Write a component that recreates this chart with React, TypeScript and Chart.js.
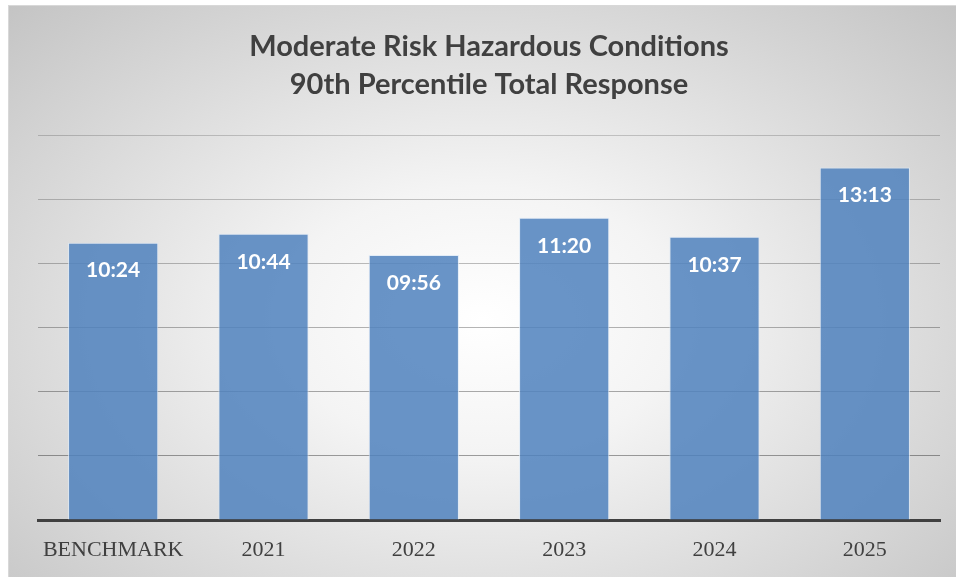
import React, { useEffect, useRef } from "react";
import { Chart, registerables } from "chart.js";

Chart.register(...registerables);

const titleLines = ["Moderate Risk Hazardous Conditions", "90th Percentile Total Response"];
const categories = ["BENCHMARK", "2021", "2022", "2023", "2024", "2025"];
// 90th percentile total response, in seconds (mm:ss)
const responseSeconds = [624, 644, 596, 680, 637, 793];
const axisMax = 864;
const axisStep = 144;

function fmt(sec: number): string {
  const m = Math.floor(sec / 60);
  const s = Math.round(sec % 60);
  return String(m).padStart(2, "0") + ":" + String(s).padStart(2, "0");
}

const labelPlugin = {
  id: "barLabels",
  afterDatasetsDraw(chart: any) {
    const ctx = chart.ctx;
    const meta = chart.getDatasetMeta(0);
    ctx.save();
    ctx.fillStyle = "#ffffff";
    ctx.font = "bold 21px Lato, 'Open Sans', sans-serif";
    ctx.textAlign = "center";
    ctx.textBaseline = "middle";
    meta.data.forEach((bar: any, i: number) => {
      ctx.fillText(fmt(responseSeconds[i]), bar.x, bar.y + 28);
    });
    ctx.restore();
  },
};

export default function App() {
  const ref = useRef<HTMLCanvasElement | null>(null);
  useEffect(() => {
    if (!ref.current) return;
    const chart = new Chart(ref.current, {
      type: "bar",
      data: {
        labels: categories,
        datasets: [
          {
            data: responseSeconds,
            backgroundColor: "rgba(79,129,189,0.85)",
            borderColor: "rgba(220,232,246,0.8)",
            borderWidth: 1,
            barPercentage: 0.6,
            categoryPercentage: 1,
          },
        ],
      },
      options: {
        animation: false,
        responsive: false,
        layout: { padding: { left: 29, right: 16, top: 0, bottom: 0 } },
        plugins: {
          legend: { display: false },
          tooltip: { enabled: false },
          title: {
            display: true,
            text: titleLines,
            color: "#404040",
            font: { family: "Lato, 'Open Sans', sans-serif", size: 29, weight: "bold", lineHeight: 1.31 },
            padding: { top: 22, bottom: 32 },
          },
        },
        scales: {
          x: {
            grid: { display: false, drawTicks: false },
            border: { display: true, color: "#404040", width: 3 },
            ticks: {
              color: "#404040",
              font: { family: "'Liberation Serif', 'DejaVu Serif', serif", size: 22 },
              padding: 17,
            },
            afterFit: (scale: any) => {
              scale.height = 57;
            },
          },
          y: {
            min: 0,
            max: axisMax,
            ticks: { display: false, stepSize: axisStep },
            border: { display: false },
            grid: {
              drawTicks: false,
              lineWidth: 1,
              color: (c: any) => {
                const v = c.tick ? c.tick.value : 0;
                const a = 0.4 - 0.22 * (v / axisMax);
                return `rgba(0,0,0,${a.toFixed(3)})`;
              },
            },
          },
        },
      },
      plugins: [labelPlugin],
    });
    return () => chart.destroy();
  }, []);

  return (
    <div
      style={{
        position: "absolute",
        left: 8,
        top: 5,
        width: 948,
        height: 572,
        background:
          "radial-gradient(ellipse farthest-corner at 50% 55%, #ffffff 0%, #f4f4f4 30%, #dcdcdc 65%, #c4c4c4 100%)",
        borderTop: "1px solid #d8d8d8",
        borderLeft: "1px solid #d8d8d8",
        boxSizing: "border-box",
      }}
    >
      <canvas ref={ref} width={947} height={571} style={{ display: "block" }} />
    </div>
  );
}
